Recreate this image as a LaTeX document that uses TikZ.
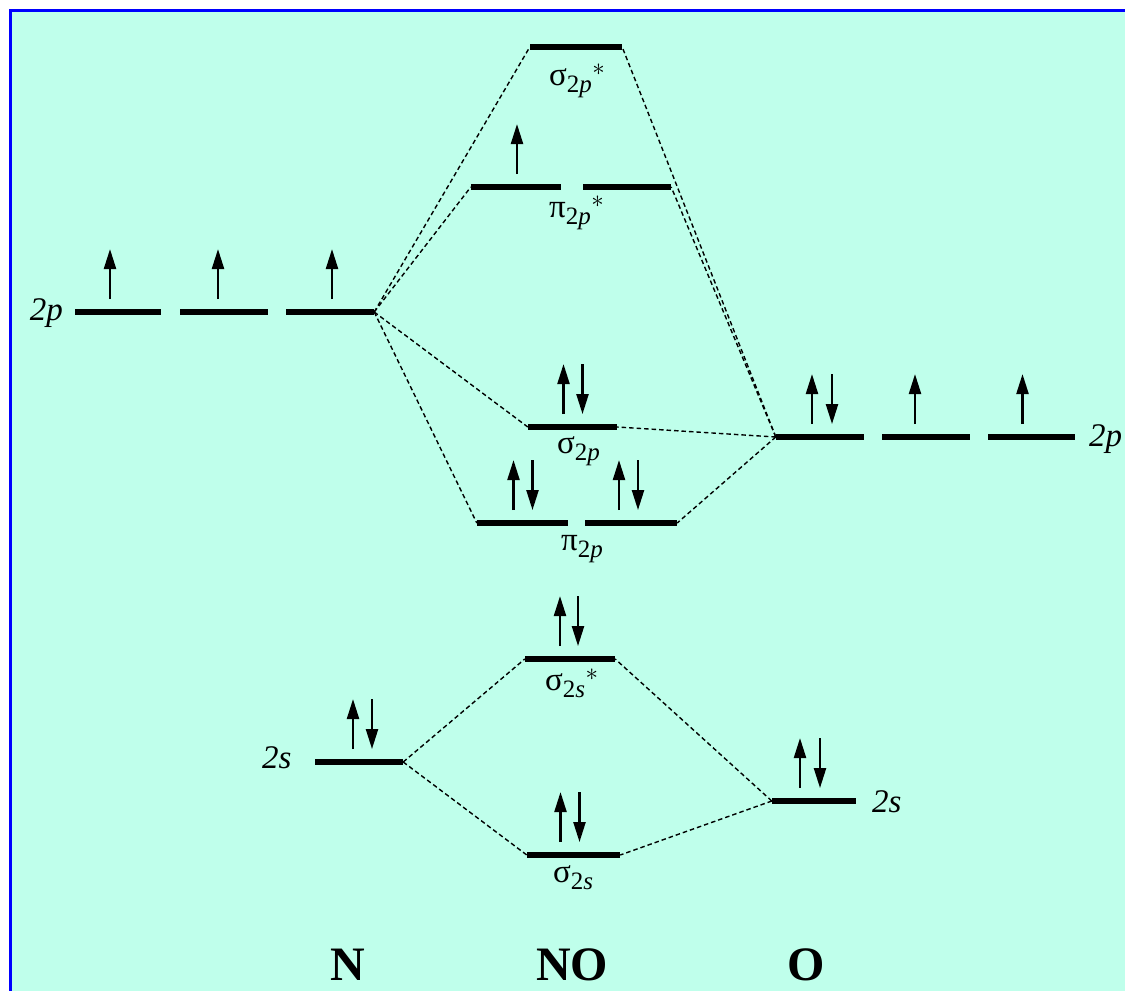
\documentclass[tikz,border=0pt]{standalone}
\usepackage{amsmath}
\usepackage{fontspec}
\setmainfont{Liberation Serif}
\usetikzlibrary{arrows.meta,positioning}
\definecolor{bgaqua}{HTML}{BFFFEB}
\definecolor{frameblue}{HTML}{0000FF}
% one spin arrow on a level: node, x offset
\newcommand{\spinup}[2]{\draw[spin] ([xshift=#2pt]#1.north) ++(0,-10) -- ++(0,-50);}
\newcommand{\spindown}[2]{\draw[spin] ([xshift=#2pt]#1.north) ++(0,-60) -- ++(0,50);}
% orbital subscript
\newcommand{\orb}[1]{$_{\text{\fontsize{25}{30}\selectfont #1}}$}

\begin{document}
\begin{tikzpicture}[x=1pt, y=-1pt,
    lvl/.style={rectangle, fill=black, inner sep=0pt, minimum height=5.5pt, minimum width=88pt},
    tie/.style={dash pattern=on 4.5pt off 3pt, line width=1.4pt},
    spin/.style={line width=2.3pt, -{Triangle[length=20pt,width=12pt]}},
    lab/.style={font=\fontsize{33}{38}\selectfont, inner sep=0pt},
    atom/.style={font=\fontsize{48}{56}\selectfont\bfseries, inner sep=0pt}]
    \useasboundingbox (0,0) rectangle (1125,991);
    \fill[bgaqua] (10,10) rectangle (1125,991);
    \draw[frameblue, line width=3pt] (1125,10.5) -- (10.5,10.5) -- (10.5,991);

    % N levels
    \node[lvl, minimum width=86pt] (Np1) at (118,312) {};
    \node[lvl] (Np2) at (224,312) {};
    \node[lvl] (Np3) at (330,312) {};
    \node[lvl] (Ns) at (359,762) {};

    % O levels
    \node[lvl] (Op1) at (820,437) {};
    \node[lvl] (Op2) at (926,437) {};
    \node[lvl, minimum width=87pt] (Op3) at (1031.5,437) {};
    \node[lvl, minimum width=84pt] (Os) at (814,801) {};

    % NO levels
    \node[lvl, minimum width=92pt] (sigps) at (576,47) {};
    \node[lvl, minimum width=90pt] (pipsA) at (516,187) {};
    \node[lvl] (pipsB) at (627,187) {};
    \node[lvl, minimum width=89pt] (sigp) at (572.5,427) {};
    \node[lvl, minimum width=91pt] (pipA) at (522.5,523) {};
    \node[lvl, minimum width=92pt] (pipB) at (631,523) {};
    \node[lvl, minimum width=90pt] (sigss) at (570,659) {};
    \node[lvl, minimum width=93pt] (sigs) at (573.5,855) {};

    % labels
    \node[lab, anchor=base east] (lNp) at (63,320) {\textit{2p}};
    \node[lab, anchor=base west] (lOp) at (1089,446) {\textit{2p}};
    \node[lab, anchor=base west] (lNs) at (262,768) {\textit{2s}};
    \node[lab, anchor=base west] (lOs) at (872,812) {\textit{2s}};
    \node[lab, anchor=base west] (lsigps) at (549,85) {σ\orb{2\textit{p}}$^{*}$};
    \node[lab, anchor=base west] (lpips) at (549,217) {π\orb{2\textit{p}}$^{*}$};
    \node[lab, anchor=base west] (lsigp) at (557,453) {σ\orb{2\textit{p}}};
    \node[lab, anchor=base west] (lpip) at (561,550) {π\orb{2\textit{p}}};
    \node[lab, anchor=base west] (lsigss) at (545,690) {σ\orb{2\textit{s}}$^{*}$};
    \node[lab, anchor=base west] (lsigs) at (553,882) {σ\orb{2\textit{s}}};

    \node[atom, anchor=base] (N) at (348,980) {N};
    \node[atom, anchor=base] (NO) at (572,980) {NO};
    \node[atom, anchor=base] (O) at (806,980) {O};

    % correlation lines
    \draw[tie] (Np3.east) -- (sigps.west);
    \draw[tie] (Np3.east) -- (pipsA.west);
    \draw[tie] (Np3.east) -- (sigp.west);
    \draw[tie] (Np3.east) -- (pipA.west);
    \draw[tie] (Op1.west) -- (sigps.east);
    \draw[tie] (Op1.west) -- (pipsB.east);
    \draw[tie] (Op1.west) -- (sigp.east);
    \draw[tie] (Op1.west) -- (pipB.east);
    \draw[tie] (Ns.east) -- (sigss.west);
    \draw[tie] (Ns.east) -- (sigs.west);
    \draw[tie] (Os.west) -- (sigss.east);
    \draw[tie] (Os.west) -- (sigs.east);

    % electrons
    \spinup{Np1}{-8}
    \spinup{Np2}{-6}
    \spinup{Np3}{2}
    \spinup{Ns}{-6} \spindown{Ns}{13}
    \spinup{Op1}{-8} \spindown{Op1}{12}
    \spinup{Op2}{-11}
    \spinup{Op3}{-9}
    \spinup{Os}{-14} \spindown{Os}{6}
    \spinup{pipsA}{1}
    \spinup{sigp}{-9} \spindown{sigp}{10}
    \spinup{pipA}{-9} \spindown{pipA}{10}
    \spinup{pipB}{-12} \spindown{pipB}{7}
    \spinup{sigss}{-10} \spindown{sigss}{8}
    \spinup{sigs}{-13} \spindown{sigs}{6}
\end{tikzpicture}
\end{document}
